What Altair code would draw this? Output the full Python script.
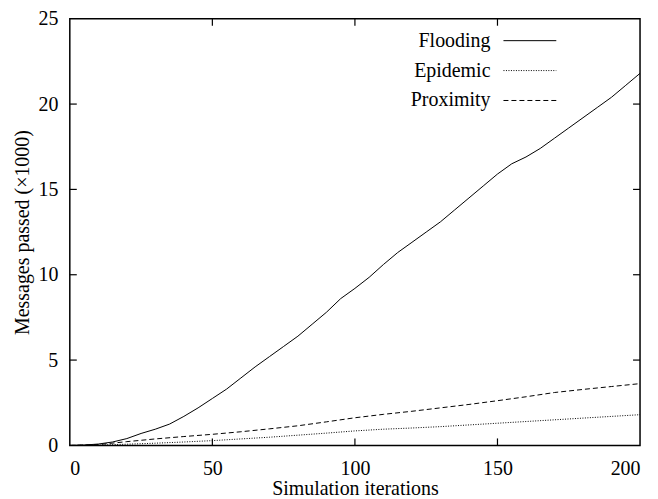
import altair as alt
import pandas as pd

# ---- data ----
flood_x = list(range(0, 201, 5))
flood_y = [0, 0.02, 0.08, 0.2, 0.4, 0.7, 0.95, 1.25, 1.7, 2.2, 2.75, 3.3, 3.95, 4.6, 5.2, 5.8,
           6.4, 7.1, 7.8, 8.6, 9.2, 9.85, 10.6, 11.3, 11.9, 12.5, 13.1, 13.8, 14.5, 15.2, 15.9,
           16.5, 16.9, 17.4, 18.0, 18.6, 19.2, 19.8, 20.4, 21.1, 21.8]

other_x = list(range(0, 201, 10))
prox_y = [0, 0.05, 0.22, 0.38, 0.52, 0.65, 0.8, 0.97, 1.15, 1.38, 1.62, 1.82, 2.0, 2.2, 2.4,
          2.62, 2.85, 3.1, 3.28, 3.45, 3.62]
epi_y = [0, 0.02, 0.07, 0.13, 0.2, 0.28, 0.38, 0.48, 0.6, 0.72, 0.85, 0.95, 1.02, 1.1, 1.2,
         1.3, 1.4, 1.5, 1.6, 1.7, 1.8]

x_ticks = [0, 50, 100, 150, 200]
y_ticks = [0, 5, 10, 15, 20, 25]
series_names = ["Flooding", "Epidemic", "Proximity"]

W, H = 572, 428
FONT = "Liberation Serif"
FS = 20

flood = pd.DataFrame({"it": flood_x, "msg": flood_y})
prox = pd.DataFrame({"it": other_x, "msg": prox_y})
epi = pd.DataFrame({"it": other_x, "msg": epi_y})

xs = alt.Scale(domain=[0, 200], nice=False)
ys = alt.Scale(domain=[0, 25], nice=False)

X = alt.X("it:Q", scale=xs, title="Simulation iterations",
          axis=alt.Axis(values=x_ticks, tickSize=0, labelPadding=13, titlePadding=0,
                        domain=False, grid=False, format="d"))
Y = alt.Y("msg:Q", scale=ys, title="Messages passed (\u00d71000)",
          axis=alt.Axis(values=y_ticks, tickSize=0, labelPadding=12, titlePadding=5,
                        domain=False, grid=False, format="d"))

base_line = dict(color="black", strokeWidth=1, clip=True)
l_flood = alt.Chart(flood).mark_line(**base_line).encode(x=X, y=Y)
l_epi = alt.Chart(epi).mark_line(strokeDash=[1, 1.5], **base_line).encode(x="it:Q", y="msg:Q")
l_prox = alt.Chart(prox).mark_line(strokeDash=[5, 3], **base_line).encode(x="it:Q", y="msg:Q")

# inward tick marks on all four sides
inner_x = pd.DataFrame({"it": x_ticks[1:-1]})
inner_y = pd.DataFrame({"msg": y_ticks[1:-1]})
TL = 7
tick_style = dict(color="black", strokeWidth=1.2)
t_bottom = alt.Chart(inner_x).mark_rule(**tick_style).encode(
    x="it:Q", y=alt.value(H), y2=alt.value(H - TL))
t_top = alt.Chart(inner_x).mark_rule(**tick_style).encode(
    x="it:Q", y=alt.value(0), y2=alt.value(TL))
t_left = alt.Chart(inner_y).mark_rule(**tick_style).encode(
    y="msg:Q", x=alt.value(0), x2=alt.value(TL))
t_right = alt.Chart(inner_y).mark_rule(**tick_style).encode(
    y="msg:Q", x=alt.value(W), x2=alt.value(W - TL))

# legend (label on the left, line sample on the right)
legend_rows = [22, 52, 82]
dashes = [None, [1, 1.5], [5, 3]]
legend_layers = []
for name, yy, dash in zip(series_names, legend_rows, dashes):
    ldf = pd.DataFrame({"name": [name]})
    txt = alt.Chart(ldf).mark_text(align="right", baseline="middle", font=FONT,
                                   fontSize=FS, color="black").encode(
        text="name:N", x=alt.value(422), y=alt.value(yy))
    kw = dict(color="black", strokeWidth=1)
    if dash:
        kw["strokeDash"] = dash
    rl = alt.Chart(ldf).mark_rule(**kw).encode(
        x=alt.value(435), x2=alt.value(488), y=alt.value(yy))
    legend_layers += [txt, rl]

chart = alt.layer(l_flood, l_epi, l_prox, t_bottom, t_top, t_left, t_right,
                  *legend_layers).properties(
    width=W, height=H,
    background="white",
    autosize=alt.AutoSizeParams(type="none"),
    padding={"left": 62, "top": 10, "right": 10, "bottom": 58},
).configure_view(
    stroke="black", strokeWidth=1.5
).configure_axis(
    labelFont=FONT, titleFont=FONT, labelFontSize=FS, titleFontSize=FS,
    labelColor="black", titleColor="black", titleFontWeight="normal"
)

chart.save("out.html", embed_options={"renderer": "svg", "actions": False})
